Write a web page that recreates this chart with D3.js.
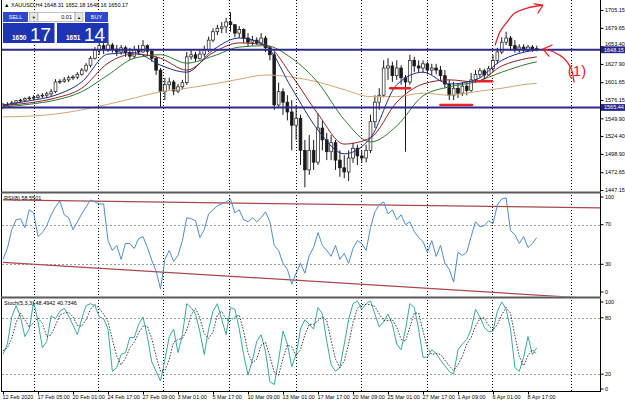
<!DOCTYPE html>
<html>
<head>
<meta charset="utf-8">
<script src="https://cdn.jsdelivr.net/npm/d3@7"></script>
<style>
  html, body { margin: 0; padding: 0; background: #fff; }
  svg { display: block; font-family: "Liberation Sans", Arial, sans-serif; }
</style>
</head>
<body>
<div id="chart"></div>
<script>
// XAUUSD H4, one entry per bar, bar 0 = 12 Feb 2020
const opens= [1566,1569,1570,1572,1575,1576,1578,1579,1580,1582,
  1583,1585,1588,1602,1603,1605,1608,1609,1613,1619,
  1626,1636,1648,1654,1648,1655,1649,1645,1651,1644,
  1639,1648,1645,1654,1646,1636,1619,1588,1598,1602,
  1589,1595,1601,1638,1641,1636,1642,1648,1662,1674,
  1679,1681,1688,1684,1672,1677,1665,1659,1662,1658,
  1665,1651,1641,1569,1588,1573,1559,1540,1550,1504,
  1476,1504,1487,1536,1519,1502,1515,1490,1479,1473,
  1493,1507,1496,1493,1504,1545,1573,1583,1622,1625,
  1611,1622,1608,1602,1633,1625,1622,1628,1619,1622,
  1619,1611,1599,1583,1593,1586,1596,1590,1605,1613,
  1618,1612,1621,1633,1645,1659,1665,1654,1649,1652,
  1648,1652,1649];
const highs= [1572,1573,1575,1576,1578,1580,1582,1583,1585,1586,
  1588,1592,1606,1606,1609,1611,1612,1616,1622,1629,
  1639,1652,1659,1658,1659,1658,1655,1655,1654,1651,
  1654,1655,1662,1656,1649,1639,1622,1608,1608,1605,
  1599,1605,1645,1648,1645,1648,1654,1667,1679,1684,
  1688,1694,1702,1685,1682,1679,1672,1668,1666,1672,
  1668,1654,1645,1601,1593,1583,1576,1569,1555,1519,
  1526,1519,1557,1547,1529,1526,1519,1504,1497,1504,
  1515,1512,1504,1512,1555,1583,1593,1633,1636,1631,
  1633,1626,1612,1641,1638,1633,1633,1631,1628,1628,
  1625,1619,1605,1602,1599,1602,1601,1615,1619,1622,
  1621,1625,1641,1651,1666,1674,1668,1662,1656,1656,
  1655,1655,1654];
const lows= [1563,1568,1569,1570,1572,1573,1575,1576,1578,1579,
  1580,1582,1586,1599,1601,1602,1605,1606,1611,1616,
  1623,1634,1641,1642,1645,1644,1639,1641,1638,1634,
  1636,1641,1644,1639,1631,1612,1565,1576,1591,1583,
  1586,1591,1598,1634,1631,1634,1638,1645,1659,1669,
  1672,1672,1674,1666,1665,1658,1652,1654,1655,1656,
  1645,1633,1562,1565,1555,1547,1504,1519,1483,1451,
  1469,1476,1483,1504,1490,1490,1476,1466,1464,1460,
  1486,1483,1486,1487,1500,1536,1562,1580,1605,1602,
  1605,1598,1502,1598,1616,1615,1616,1613,1612,1613,
  1605,1593,1576,1576,1579,1582,1583,1588,1601,1608,
  1606,1611,1616,1628,1642,1655,1648,1644,1644,1645,
  1645,1645,1646];
const closes= [1569,1570,1572,1575,1576,1578,1579,1580,1582,1583,
  1585,1588,1602,1603,1605,1608,1609,1613,1619,1626,
  1636,1648,1654,1648,1655,1649,1645,1651,1644,1639,
  1648,1645,1654,1646,1636,1619,1588,1598,1602,1589,
  1595,1601,1638,1641,1636,1642,1648,1662,1674,1679,
  1681,1688,1684,1672,1677,1665,1659,1662,1658,1665,
  1651,1641,1569,1588,1573,1559,1540,1550,1504,1476,
  1504,1487,1536,1519,1502,1515,1490,1479,1473,1493,
  1507,1496,1493,1504,1545,1573,1583,1622,1625,1611,
  1622,1608,1602,1633,1625,1622,1628,1619,1622,1619,
  1611,1599,1583,1593,1586,1596,1590,1605,1613,1618,
  1612,1621,1633,1645,1659,1665,1654,1649,1652,1648,
  1652,1649,1650];

// moving averages, read every 6 bars
const maBars= [0,6,12,18,24,30,36,42,48,54,60,66,72,78,84,90,96,102,108,114,120,122];
const maFast= [1569,1575,1583,1602,1642,1644,1626,1616,1648,1665,1654,1593,1533,1499,1522,1598,1616,1599,1605,1633,1646,1648];
const maMid= [1568,1572,1579,1593,1629,1642,1636,1619,1644,1658,1655,1611,1556,1513,1522,1573,1599,1605,1602,1625,1636,1638];
const maSlow= [1566,1570,1576,1588,1612,1636,1641,1629,1639,1652,1654,1636,1601,1548,1516,1539,1582,1595,1602,1616,1628,1631];
const maLong= [1552,1553,1556,1562,1570,1579,1588,1593,1599,1606,1612,1609,1602,1591,1581,1581,1586,1583,1588,1593,1599,1600];

const rsiVals= [35,46,65,75,76,67,85,82,58,62,
  69,80,88,94,80,77,65,73,81,88,
  95,93,91,91,54,44,49,35,51,51,
  46,56,58,47,34,23,5,35,44,33,
  39,54,77,76,74,57,65,81,85,89,
  91,93,96,82,85,75,73,77,73,77,
  83,73,49,44,31,25,10,21,31,21,
  39,47,62,49,44,38,49,35,41,31,
  46,54,51,44,67,83,90,93,81,85,
  75,80,70,73,63,57,53,42,54,38,
  49,31,25,12,42,39,42,58,73,68,
  69,74,71,90,96,97,64,60,51,58,
  47,51,57];
const stochMain= [41,52,81,93,81,60,68,97,76,48,
  55,82,79,87,90,82,72,62,79,93,
  95,93,81,79,68,23,27,41,43,59,
  59,73,81,60,33,23,13,35,60,68,
  43,62,95,91,84,65,41,68,87,95,
  78,62,91,89,68,41,19,35,55,62,
  44,12,9,35,66,52,28,41,68,78,
  73,68,91,84,55,30,23,27,52,78,
  95,98,89,95,98,84,70,76,84,73,
  52,46,68,95,91,68,38,38,46,42,
  35,29,23,20,46,52,57,68,89,81,
  70,65,66,87,97,89,68,27,23,38,
  60,41,48];
const stochSignal= [45,48,58,75,85,78,70,75,80,74,
  60,62,72,83,85,86,81,72,71,78,
  89,94,90,84,76,57,39,30,37,48,
  54,64,71,71,58,39,23,24,36,54,
  57,58,67,83,90,80,63,58,65,83,
  87,78,77,81,83,66,43,32,36,51,
  54,39,22,19,37,51,49,40,46,62,
  73,73,77,81,77,56,36,27,34,52,
  75,90,94,94,94,92,84,77,77,78,
  70,57,55,70,85,85,66,48,41,42,
  41,35,29,24,30,39,52,59,71,79,
  80,72,67,73,83,91,85,61,39,29,
  40,46,41];

const priceTicks= [1705.15,1679.65,1653.40,1627.90,1601.65,1576.15,1549.90,1524.40,1498.90,1472.65,1447.15];
const hLevels= [1648.15,1565.44];
const timeBars= [0,8,16,24,32,40,48,56,64,72,80,88,96,104,112,120];
const timeLabels= ['12 Feb 2020','17 Feb 05:00','20 Feb 01:00','24 Feb 17:00','27 Feb 09:00','3 Mar 01:00',
  '5 Mar 17:00','10 Mar 09:00','13 Mar 01:00','17 Mar 17:00','20 Mar 09:00','25 Mar 01:00',
  '27 Mar 17:00','1 Apr 09:00','6 Apr 01:00','8 Apr 17:00'];
const gridBars= [7.1,21.7,36.6,51.7,67,81.8,96.9,111.8,129.8];
const rsiTicks= [100,70,30,0];
const rsiLevels= [70,30];
const stochTicks= [100,80,20,0];
const stochLevels= [80,20];
const rsiTrendTop= [[0,95],[136.5,87]];
const rsiTrendBottom= [[0,32],[136.5,-5]];

// hand drawn marks: [bar, price]
const markFrom= [88.5,100,108.3];
const markTo= [93,107.2,111.8];
const markPrice= [1593,1569,1603];
const arrowUp= [[112.5,1655],[113.6,1674],[115.2,1688],[117,1701],[119.8,1708],[123.2,1712]];
const arrowUpHead= [[121.4,1714],[123.4,1712],[122.3,1701]];
const arrowBack= [[130.5,1602],[129.8,1622],[128.2,1636],[125.9,1645],[123.7,1649]];
const arrowBackHead= [[125.5,1655],[123.4,1649],[124.8,1639]];
const noteAt= [131.2,1619];

const W= 625, H= 406;
const PL= 2, PR= 600;
const MAIN= { top: 0, bottom: 191 };
const RSI= { top: 193.5, bottom: 296.5 };
const STO= { top: 298.5, bottom: 391 };
const FONT= 5.5;

const x= d3.scaleLinear().domain([0, 120]).range([3, 528]);
const yMain= d3.scaleLinear().domain([1445.7, 1719.5]).range([191, 0]);
const yRsi= d3.scaleLinear().domain([0, 100]).range([294, 195]);
const ySto= d3.scaleLinear().domain([0, 100]).range([393, 299]);

const svg= d3.select('#chart').append('svg')
  .attr('width', W).attr('height', H);
svg.append('rect').attr('width', W).attr('height', H).attr('fill', '#fff');

const defs= svg.append('defs');
const _clip= (id, p) => defs.append('clipPath').attr('id', id).append('rect')
  .attr('x', PL).attr('y', p.top).attr('width', PR-PL).attr('height', p.bottom-p.top);
_clip('c-main', MAIN);
_clip('c-rsi', RSI);
_clip('c-sto', STO);

// vertical grid
svg.append('g').selectAll('line').data(gridBars).join('line')
  .attr('x1', d => Math.round(x(d))+0.5).attr('x2', d => Math.round(x(d))+0.5)
  .attr('y1', 0).attr('y2', STO.bottom)
  .attr('stroke', '#000').attr('stroke-width', 1)
  .attr('stroke-dasharray', '1,2');

// level grid in sub windows
const _levels= (vals, sc) => svg.append('g').selectAll('line').data(vals).join('line')
  .attr('x1', PL).attr('x2', PR)
  .attr('y1', d => Math.round(sc(d))+0.5).attr('y2', d => Math.round(sc(d))+0.5)
  .attr('stroke', '#9a9a9a').attr('stroke-width', 1).attr('stroke-dasharray', '2,2');
_levels(rsiLevels, yRsi);
_levels(stochLevels, ySto);

// main window
const gMain= svg.append('g').attr('clip-path', 'url(#c-main)');
const bars= closes.map((c, i) => ({ i, o: opens[i], h: highs[i], l: lows[i], c }));

gMain.selectAll('line.wick').data(bars).join('line').attr('class', 'wick')
  .attr('x1', d => x(d.i)).attr('x2', d => x(d.i))
  .attr('y1', d => yMain(d.h)).attr('y2', d => yMain(d.l))
  .attr('stroke', '#1a1a1a').attr('stroke-width', 1);
gMain.selectAll('rect.body').data(bars).join('rect').attr('class', 'body')
  .attr('x', d => x(d.i)-1.4).attr('width', 2.8)
  .attr('y', d => yMain(Math.max(d.o, d.c)))
  .attr('height', d => Math.max(0.8, Math.abs(yMain(d.o)-yMain(d.c))))
  .attr('fill', d => d.c >= d.o ? '#fff' : '#1a1a1a')
  .attr('stroke', '#1a1a1a').attr('stroke-width', 0.7);

const maLine= d3.line().x((d, i) => x(maBars[i])).y(d => yMain(d)).curve(d3.curveMonotoneX);
const maSeries= [
  { vals: maLong, color: '#d4a574' },
  { vals: maSlow, color: '#2d7a2d' },
  { vals: maMid, color: '#8c2424' },
  { vals: maFast, color: '#1f2a8a' },
];
for (const s of maSeries) {
  gMain.append('path').attr('d', maLine(s.vals))
    .attr('fill', 'none').attr('stroke', s.color).attr('stroke-width', 1);
}

gMain.selectAll('line.hlev').data(hLevels).join('line').attr('class', 'hlev')
  .attr('x1', PL).attr('x2', PR)
  .attr('y1', d => yMain(d)).attr('y2', d => yMain(d))
  .attr('stroke', '#2e2a8c').attr('stroke-width', 2);

// red pen marks
const RED= '#e3222a';
gMain.selectAll('line.mark').data(markPrice).join('line').attr('class', 'mark')
  .attr('x1', (d, i) => x(markFrom[i])).attr('x2', (d, i) => x(markTo[i]))
  .attr('y1', d => yMain(d)).attr('y2', d => yMain(d))
  .attr('stroke', RED).attr('stroke-width', 2.6).attr('stroke-linecap', 'round');

const penLine= d3.line().x(d => x(d[0])).y(d => yMain(d[1])).curve(d3.curveCatmullRom);
const penSharp= d3.line().x(d => x(d[0])).y(d => yMain(d[1]));
for (const pts of [arrowUp, arrowBack]) {
  svg.append('path').attr('d', penLine(pts))
    .attr('fill', 'none').attr('stroke', RED).attr('stroke-width', 1.3)
    .attr('stroke-linecap', 'round');
}
for (const pts of [arrowUpHead, arrowBackHead]) {
  svg.append('path').attr('d', penSharp(pts))
    .attr('fill', 'none').attr('stroke', RED).attr('stroke-width', 1.3)
    .attr('stroke-linecap', 'round').attr('stroke-linejoin', 'round');
}
svg.append('text')
  .attr('x', x(noteAt[0])).attr('y', yMain(noteAt[1]))
  .attr('text-anchor', 'middle').attr('dominant-baseline', 'central')
  .attr('font-size', 15).attr('fill', RED)
  .text('(1)');

// RSI window
const gRsi= svg.append('g').attr('clip-path', 'url(#c-rsi)');
const trendLine= d3.line().x(d => x(d[0])).y(d => yRsi(d[1]));
for (const t of [rsiTrendTop, rsiTrendBottom]) {
  gRsi.append('path').attr('d', trendLine(t))
    .attr('fill', 'none').attr('stroke', '#a8484c').attr('stroke-width', 1.2);
}
gRsi.append('path')
  .attr('d', d3.line().x((d, i) => x(i)).y(d => yRsi(d))(rsiVals))
  .attr('fill', 'none').attr('stroke', '#4f8ccc').attr('stroke-width', 1);

// Stochastic window
const gSto= svg.append('g').attr('clip-path', 'url(#c-sto)');
const stoLine= d3.line().x((d, i) => x(i)).y(d => ySto(d));
gSto.append('path').attr('d', stoLine(stochMain))
  .attr('fill', 'none').attr('stroke', '#3aa8a0').attr('stroke-width', 1);
gSto.append('path').attr('d', stoLine(stochSignal))
  .attr('fill', 'none').attr('stroke', '#222').attr('stroke-width', 0.9)
  .attr('stroke-dasharray', '1.5,1.5');

// frame and separators
svg.append('line').attr('x1', PL-0.5).attr('x2', PL-0.5).attr('y1', 0).attr('y2', STO.bottom)
  .attr('stroke', '#000');
svg.append('line').attr('x1', PR+0.5).attr('x2', PR+0.5).attr('y1', 0).attr('y2', STO.bottom)
  .attr('stroke', '#000');
svg.append('line').attr('x1', PL-1).attr('x2', PR+1).attr('y1', STO.bottom+0.5).attr('y2', STO.bottom+0.5)
  .attr('stroke', '#000');
for (const yy of [191.5, 296.5]) {
  svg.append('rect').attr('x', PL-1).attr('y', yy).attr('width', PR-PL+2).attr('height', 2)
    .attr('fill', '#5a5a5a');
}

// axes
const _style= sel => {
  sel.select('.domain').remove();
  sel.selectAll('text').attr('font-size', FONT).attr('font-family', '"Liberation Sans", Arial, sans-serif')
    .attr('fill', '#000');
  sel.selectAll('line').attr('stroke', '#000');
};

// a price label that would sit under a line label is pushed clear of it
const _clear= d => {
  for (const lv of hLevels) {
    const gap= yMain(d)-yMain(lv);
    if (Math.abs(gap) < 7) return gap < 0 ? -(7+gap)+0.5 : 7-gap;
  }
  return 0;
};
svg.append('g').attr('transform', `translate(${PR+0.5},0)`)
  .call(d3.axisRight(yMain).tickValues(priceTicks).tickSize(3).tickPadding(1.5)
    .tickFormat(d3.format('.2f')))
  .call(_style)
  .call(a => a.selectAll('text').attr('y', d => _clear(d)));

const _subAxis= (sc, ticks, lo, hi) => svg.append('g').attr('transform', `translate(${PR+0.5},0)`)
  .call(d3.axisRight(sc).tickValues(ticks).tickSize(3).tickPadding(1.5).tickFormat(d3.format('d')))
  .call(_style)
  .call(a => a.selectAll('.tick')
    .attr('transform', d => `translate(0,${Math.max(lo, Math.min(hi, sc(d)))})`));
_subAxis(yRsi, rsiTicks, 197, 292);
_subAxis(ySto, stochTicks, 302, 389);

svg.append('g').attr('transform', `translate(0,${STO.bottom+0.5})`)
  .call(d3.axisBottom(x).tickValues(timeBars).tickSize(3)
    .tickFormat((d, i) => timeLabels[i]))
  .call(_style)
  .call(a => a.selectAll('text').attr('text-anchor', 'start').attr('x', -1).attr('y', 4));

// current price / line labels
const boxes= svg.append('g').selectAll('g').data(hLevels).join('g')
  .attr('transform', d => `translate(${PR+1},${yMain(d)})`);
boxes.append('rect').attr('x', 0).attr('y', -3.4).attr('width', 24).attr('height', 6.8)
  .attr('fill', '#27238a');
boxes.append('text').attr('x', 3).attr('y', 0).attr('dominant-baseline', 'central')
  .attr('font-size', FONT).attr('fill', '#fff')
  .text(d => d3.format('.2f')(d));

// window labels
svg.append('text').attr('x', 4).attr('y', 7).attr('font-size', FONT).attr('fill', '#000')
  .text('\u25B2 XAUUSD,H4  1648.31 1652.18 1648.16 1650.17');
svg.append('text').attr('x', 4).attr('y', 199.5).attr('font-size', FONT).attr('fill', '#000')
  .text('RSI(8) 58.5501');
svg.append('text').attr('x', 4).attr('y', 304.5).attr('font-size', FONT).attr('fill', '#000')
  .text('Stoch(5,3,3) 48.4942 40.7346');

// one click trading panel
const panel= svg.append('g');
const BTN= '#3049cc', BOX= '#1d34b4';
panel.append('rect').attr('x', 3).attr('y', 12).attr('width', 25).attr('height', 10).attr('fill', BTN);
panel.append('text').attr('x', 15.5).attr('y', 17).attr('text-anchor', 'middle').attr('dominant-baseline', 'central')
  .attr('font-size', 5.5).attr('fill', '#fff').text('SELL');
panel.append('rect').attr('x', 29.5).attr('y', 12.5).attr('width', 8.5).attr('height', 9)
  .attr('fill', '#e6e6e6').attr('stroke', '#9a9a9a').attr('stroke-width', 0.6);
panel.append('text').attr('x', 33.7).attr('y', 17).attr('text-anchor', 'middle').attr('dominant-baseline', 'central')
  .attr('font-size', 4).attr('fill', '#000').text('\u25BC');
panel.append('rect').attr('x', 38).attr('y', 12.5).attr('width', 37).attr('height', 9)
  .attr('fill', '#fff').attr('stroke', '#9a9a9a').attr('stroke-width', 0.6);
panel.append('text').attr('x', 72).attr('y', 17).attr('text-anchor', 'end').attr('dominant-baseline', 'central')
  .attr('font-size', 5.5).attr('fill', '#000').text('0.01');
panel.append('rect').attr('x', 75).attr('y', 12.5).attr('width', 8).attr('height', 9)
  .attr('fill', '#e6e6e6').attr('stroke', '#9a9a9a').attr('stroke-width', 0.6);
panel.append('text').attr('x', 79).attr('y', 17).attr('text-anchor', 'middle').attr('dominant-baseline', 'central')
  .attr('font-size', 4).attr('fill', '#000').text('\u25B2');
panel.append('rect').attr('x', 85).attr('y', 12).attr('width', 23).attr('height', 10).attr('fill', BTN);
panel.append('text').attr('x', 96.5).attr('y', 17).attr('text-anchor', 'middle').attr('dominant-baseline', 'central')
  .attr('font-size', 5.5).attr('fill', '#fff').text('BUY');

const quotes= [
  { x0: 3, small: '1650', big: '17' },
  { x0: 57, small: '1651', big: '14' },
];
for (const q of quotes) {
  panel.append('rect').attr('x', q.x0).attr('y', 23).attr('width', 51.5).attr('height', 20).attr('fill', BOX);
  panel.append('text').attr('x', q.x0+9).attr('y', 40).attr('font-size', 6.5).attr('font-weight', 'bold')
    .attr('fill', '#fff').text(q.small);
  panel.append('text').attr('x', q.x0+27).attr('y', 41).attr('font-size', 19)
    .attr('fill', '#fff').text(q.big);
}
</script>
</body>
</html>
